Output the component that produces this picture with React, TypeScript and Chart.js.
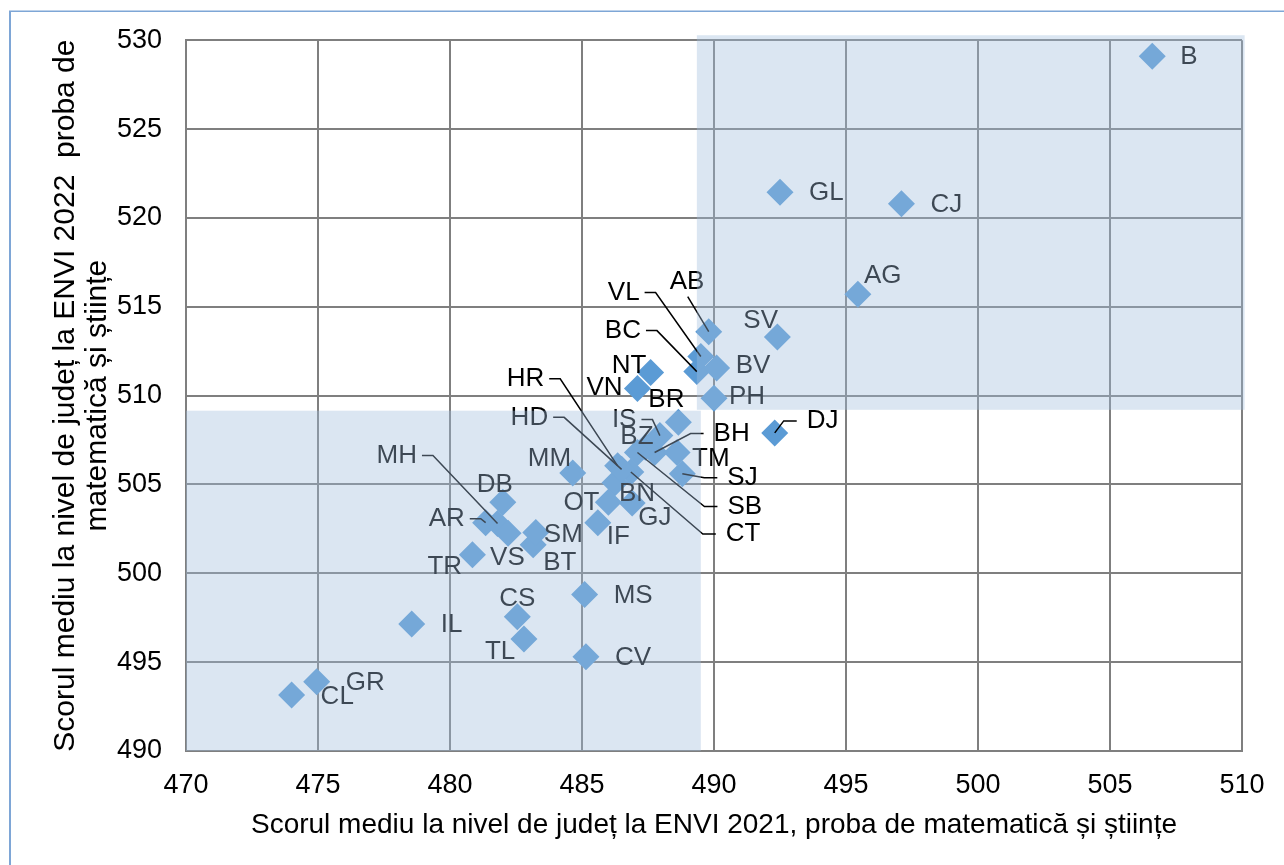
import React, { useEffect, useRef } from 'react';
import { Chart, registerables } from 'chart.js';

Chart.register(...registerables);

const FONT = '"Liberation Sans", Arial, Helvetica, sans-serif';

const counties = ['AB', 'AR', 'AG', 'BC', 'BH', 'BN', 'BT', 'BV', 'BR', 'BZ', 'CS', 'CL', 'CJ', 'CT', 'CV', 'DB', 'DJ', 'GL', 'GR', 'GJ', 'HR', 'HD', 'IL', 'IS', 'IF', 'MM', 'MH', 'MS', 'NT', 'OT', 'PH', 'SM', 'SJ', 'SB', 'SV', 'TR', 'TM', 'TL', 'VS', 'VL', 'VN', 'B'];

const score2021 = [489.8, 481.35, 495.45, 489.35, 487.75, 486.25, 483.15, 490.1, 488.65, 487.4, 482.55, 474.0, 497.1, 486.85, 485.15, 482.0, 492.3, 492.5, 474.95, 486.9, 486.35, 486.5, 478.55, 487.95, 485.6, 484.65, 481.8, 485.1, 487.6, 486.0, 490.0, 483.25, 488.8, 487.1, 492.4, 480.85, 488.6, 482.8, 482.2, 489.5, 487.1, 506.6];

const score2022 = [513.6, 502.85, 515.7, 511.35, 506.8, 505.1, 501.6, 511.55, 508.5, 507.1, 497.55, 493.15, 520.8, 505.7, 495.3, 504.0, 507.9, 521.45, 493.9, 503.95, 506.05, 505.85, 497.15, 507.75, 502.85, 505.65, 502.8, 498.8, 511.3, 504.0, 509.85, 502.3, 505.6, 506.8, 513.3, 501.05, 506.8, 496.3, 502.25, 512.2, 510.4, 529.1];

// shaded quadrants (below / above the national averages)
const lowerBandX = [470, 489.5];
const lowerBandY = [490, 509.15];
const upperBandX = [489.35, 510.1];
const upperBandY = [509.2, 530.28];

const xTitle = 'Scorul mediu la nivel de județ la ENVI 2021, proba de matematică și științe';
const yTitle = ['Scorul mediu la nivel de județ la ENVI 2022  proba de', 'matematică și științe'];

// label layout (pixel offsets from the marker) and leader-line side
const labelOffsets: [number, number][] = [
  [-39, -50], [-57, -4], [6, -18], [-92, -41], [59, -19], [4, 11], [10, 18], [19, -2], [-30, -22], [-25, -10],
  [-18, -18], [29, 2], [29, 1], [95, 62], [29, 1], [-26, -17], [32, -12], [29, 1], [29, 1], [6, 15],
  [-111, -87], [-111, -52], [29, 1], [-48, -16], [9, 14], [-45, -14], [-121, -68], [29, 1], [-39, -7], [-45, 1],
  [15, -1], [8, 2], [45, 4], [90, 54], [-34, -16], [-45, 12], [15, 6], [-39, 13], [-18, 25], [-93, -64],
  [-51, -1], [28, 1],
];
const leaderSides = [
  'D', 'R', '', 'R', 'L', '', '', '', '', '',
  '', '', '', 'L', '', '', 'L', '', '', '',
  'R', 'R', '', 'R', '', '', 'R', '', '', '',
  '', '', 'L', 'L', '', '', '', '', '', 'R',
  '', '',
];

const overlayPlugin = {
  id: 'overlayPlugin',
  beforeDraw(chart: any) {
    const ctx = chart.ctx;
    ctx.save();
    ctx.fillStyle = '#7EA6D6';
    ctx.fillRect(9, 11, 2, chart.height - 11);
    ctx.fillRect(9, 10.5, chart.width - 9, 1.5);
    ctx.restore();
  },
  afterDatasetsDraw(chart: any) {
    const ctx = chart.ctx;
    const meta = chart.getDatasetMeta(0);
    const xs = chart.scales.x;
    const ys = chart.scales.y;
    ctx.save();
    ctx.font = `26px ${FONT}`;
    ctx.textBaseline = 'middle';
    ctx.textAlign = 'left';
    meta.data.forEach((el: any, i: number) => {
      const [dx, dy] = labelOffsets[i];
      const lx = el.x + dx;
      const ly = el.y + dy;
      const w = ctx.measureText(counties[i]).width;
      const side = leaderSides[i];
      if (side) {
        ctx.beginPath();
        ctx.strokeStyle = '#000';
        ctx.lineWidth = 1.5;
        if (side === 'R') {
          ctx.moveTo(lx + w + 5, ly);
          ctx.lineTo(lx + w + 16, ly);
        } else if (side === 'L') {
          ctx.moveTo(lx - 10, ly);
          ctx.lineTo(lx - 23, ly);
        } else {
          ctx.moveTo(lx + 18, ly + 15);
        }
        ctx.lineTo(el.x, el.y);
        ctx.stroke();
      }
      ctx.fillStyle = '#000';
      ctx.fillText(counties[i], lx, ly);
    });
    ctx.fillStyle = 'rgba(160,190,220,0.38)';
    const bands = [[lowerBandX, lowerBandY], [upperBandX, upperBandY]];
    bands.forEach(([bx, by]) => {
      const x0 = xs.getPixelForValue(bx[0]);
      const x1 = xs.getPixelForValue(bx[1]);
      const y0 = ys.getPixelForValue(by[1]);
      const y1 = ys.getPixelForValue(by[0]);
      ctx.fillRect(x0, y0, x1 - x0, y1 - y0);
    });
    ctx.restore();
  },
};

export default function App() {
  const ref = useRef<HTMLCanvasElement | null>(null);

  useEffect(() => {
    document.body.style.margin = '0';
    const canvas = ref.current;
    if (!canvas) return;
    const points = counties.map((_, i) => ({ x: score2021[i], y: score2022[i] }));
    const gridColor = '#7F7F7F';
    const chart = new Chart(canvas, {
      type: 'scatter',
      data: {
        datasets: [
          {
            data: points,
            pointStyle: 'rectRot',
            pointRadius: 13.5,
            pointHoverRadius: 13.5,
            backgroundColor: '#5B9BD5',
            borderColor: '#5B9BD5',
            borderWidth: 0,
          },
        ],
      },
      options: {
        animation: false,
        responsive: false,
        devicePixelRatio: 1,
        events: [],
        layout: { padding: { left: 0, right: 42, top: 40, bottom: 0 } },
        plugins: {
          legend: { display: false },
          tooltip: { enabled: false },
        },
        scales: {
          x: {
            type: 'linear',
            min: 470,
            max: 510,
            ticks: { stepSize: 5, color: '#000', padding: 18, font: { family: FONT, size: 27 } },
            grid: { color: gridColor, lineWidth: 2, drawTicks: false },
            border: { color: gridColor, width: 2 },
            title: {
              display: true,
              text: xTitle,
              color: '#000',
              font: { family: FONT, size: 28 },
              padding: { top: 0, bottom: 23 },
            },
            afterFit: (s: any) => {
              s.height = 114;
            },
          },
          y: {
            type: 'linear',
            min: 490,
            max: 530,
            ticks: { stepSize: 5, color: '#000', padding: 24, font: { family: FONT, size: 27 } },
            grid: { color: gridColor, lineWidth: 2, drawTicks: false },
            border: { color: gridColor, width: 2 },
            title: {
              display: true,
              text: yTitle,
              color: '#000',
              font: { family: FONT, size: 30, lineHeight: 32 / 30 },
              padding: { top: 50, bottom: 0 },
            },
            afterFit: (s: any) => {
              s.width = 186;
            },
          },
        },
      },
      plugins: [overlayPlugin],
    } as any);
    return () => chart.destroy();
  }, []);

  return (
    <div style={{ width: 1284, height: 865, overflow: 'hidden', position: 'relative' }}>
      <canvas ref={ref} width={1284} height={865} style={{ display: 'block' }} />
    </div>
  );
}
